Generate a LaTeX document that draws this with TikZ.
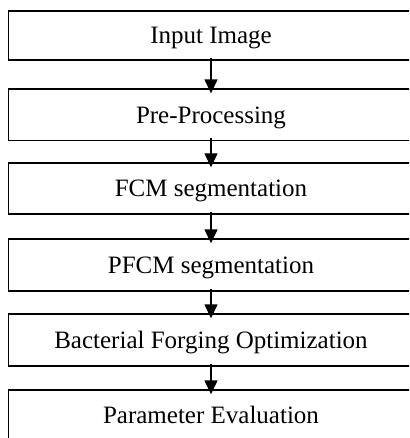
\documentclass[tikz,border=0pt]{standalone}
\usepackage{fontspec}
\setmainfont{Liberation Serif}
\usetikzlibrary{arrows.meta}
\begin{document}
\begin{tikzpicture}[x=1pt,y=-1pt,
  box/.style={draw=black,line width=1.4pt,rectangle,minimum width=405pt,inner sep=0pt,
    font=\fontsize{25}{30}\selectfont,text height=16.5pt,text depth=0pt},
  arr/.style={draw=black,line width=1.4pt,-{Triangle[length=14pt,width=13pt]}}]
\useasboundingbox (0,0) rectangle (409,438);
\clip (0,0) rectangle (409,438);
\fill[white] (0,0) rectangle (409,438);
\node[box,minimum height=49pt] (b1) at (211,35.5) {Input Image};
\node[box,minimum height=51.5pt] (b2) at (211,114.8) {Pre-Processing};
\node[box,minimum height=51pt] (b3) at (211,188.5) {FCM segmentation};
\node[box,minimum height=52pt] (b4) at (211,265) {PFCM segmentation};
\node[box,minimum height=52pt] (b5) at (211,340) {Bacterial Forging Optimization};
\node[box,minimum height=51pt] (b6) at (211,415.5) {Parameter Evaluation};
\foreach \a/\b in {b1/b2,b2/b3,b3/b4,b4/b5,b5/b6}
  \draw[arr] ([yshift=3pt]\a.south) -- ([yshift=-5pt]\b.north);
\end{tikzpicture}
\end{document}
